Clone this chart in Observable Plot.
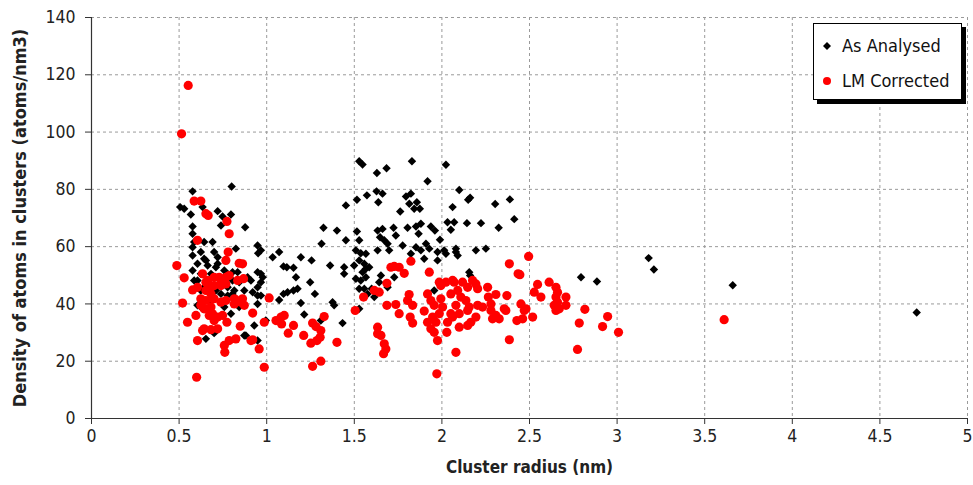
<!DOCTYPE html>
<html>
<head>
<meta charset="utf-8">
<script src="https://cdn.jsdelivr.net/npm/d3@7"></script>
<script src="https://cdn.jsdelivr.net/npm/@observablehq/plot@0.6"></script>
<style>
  body { margin: 0; background: #fff; }
  #wrap { position: relative; width: 973px; height: 485px; font-family: "DejaVu Sans Condensed", Lato, sans-serif; }
  #wrap svg [aria-label="x-axis label"] text { font-weight: bold; font-size: 17px; fill: #222; }
  #wrap svg [aria-label="y-axis label"] text { font-weight: bold; font-size: 18px; fill: #222; }
  .legend { position: absolute; left: 813px; top: 23px; width: 147px; height: 75px; border: 1px solid #000; background: #fff; box-shadow: 4px 4px 0 #000; font-size: 18px; color: #111; }
  .legend .row { position: absolute; left: 0; height: 22px; line-height: 22px; }
  .legend .mk { position: absolute; }
</style>
</head>
<body>
<div id="wrap"></div>
<script>
const xTicks = [0, 0.5, 1, 1.5, 2, 2.5, 3, 3.5, 4, 4.5, 5];
const yTicks = [0, 20, 40, 60, 80, 100, 120, 140];
const seriesNames = ["As Analysed", "LM Corrected"];
const xTitle = "Cluster radius (nm)";
const yTitle = "Density of atoms in clusters (atoms/nm3)";

// As Analysed: [radius nm, density]
const asAnalysed = [
[4.71,37],[3.66,46.5],[3.18,56],[3.21,52],[2.794,49.3],[2.885,47.8],
[1.528,89.8],[1.547,88.7],[1.629,85.7],[1.684,87.4],[1.829,89.8],[2.023,88.6],[1.918,82.8],[1.452,74.4],[1.515,76.4],[1.572,77.9],[1.627,79.3],[1.661,78.5],[1.637,75.5],[1.762,72.3],[1.795,77.5],[1.823,78.5],[1.814,75.0],[1.842,73.2],[1.857,75.5],[1.874,73.2],[2.099,79.8],[2.150,76.4],[2.161,77.1],[2.061,73.8],
[1.452,62.2],[1.515,65.3],[1.528,62.2],[1.633,65.6],[1.661,66.2],[1.647,63.3],[1.671,62.2],[1.724,66.6],[1.737,63.9],[1.804,66.6],[1.852,67.0],[1.880,68.0],[1.867,64.5],[1.937,67.0],[1.960,65.6],[1.989,62.4],[2.032,68.5],[2.070,68.5],[2.051,65.9],[2.143,68.2],
[1.509,58.7],[1.537,57.7],[1.566,57.5],[1.633,58.7],[1.690,61.0],[1.699,58.7],[1.776,60.4],[1.823,57.5],[1.852,59.8],[1.880,58.7],[1.909,61.0],[1.928,59.3],[1.975,58.1],[2.013,58.7],[2.023,57.5],[2.080,58.1],[2.080,59.3],[2.194,58.7],
[1.499,53.4],[1.528,55.2],[1.557,54.0],[1.566,52.3],[1.547,51.1],[1.585,52.8],[1.566,49.3],[1.442,52.8],[1.442,50.5],[1.509,48.8],[1.652,49.9],[1.728,49.3],[1.642,47.6],[1.690,45.8],[1.528,45.3],[1.599,45.3],[1.899,55.8],[1.975,55.2],[2.156,51.1],
[2.304,74.9],[2.388,76.5],[2.413,69.6],[2.223,68.2],[2.324,66.6],[2.251,59.3],[2.161,49.9],[1.956,44.7],[2.09,56.9],
[1.537,48.2],[1.576,43.5],[1.623,44.1],[1.614,42.4],[1.528,38.3],[1.557,45.3],
[1.324,66.6],[1.401,65.6],[1.313,61.0],[1.034,56.3],[1.071,58.1],[1.096,53.1],[1.115,52.8],[1.153,52.6],[1.195,56.3],[1.256,55.2],[1.167,49.3],[1.362,53.4],[1.248,47.6],[1.275,43.5],[1.176,45.3],[1.153,44.7],[1.119,44.1],[1.096,43.5],[1.071,41.4],[1.195,40.3],[1.376,40.6],[1.385,39.5],[1.214,36.3],[1.433,33.3],[1.309,34.2],[0.967,58.7],[0.967,50.5],[0.977,49.3],[0.967,42.9],[0.995,34.2],
[0.577,79.3],[0.800,81.0],[0.506,73.8],[0.529,73.2],[0.567,71.2],[0.634,73.8],[0.720,72.4],[0.748,70.5],[0.796,71.2],[0.739,67.4],[0.877,66.8],[0.577,67.0],[0.577,64.5],[0.586,61.6],[0.643,61.6],[0.691,61.6],[0.577,59.8],[0.624,58.1],[0.700,58.1],[0.720,56.3],[0.824,59.3],[0.948,60.4],[0.951,57.7],[0.577,56.9],[0.605,54.0],[0.653,55.2],[0.720,54.0],[0.577,51.7],[0.624,50.5],[0.682,50.5],[0.777,50.5],[0.805,51.1],[0.843,47.6],[0.910,48.2],[0.948,51.1],[0.967,47.6],[0.586,48.2],[0.624,44.7],[0.710,44.7],[0.739,43.5],[0.777,42.9],[0.815,44.7],[0.872,44.7],[0.920,44.1],[0.948,42.9],[0.948,40.0],[0.605,39.5],[0.634,38.3],[0.682,41.2],[0.758,38.9],[0.796,36.6],[0.843,38.9],[0.929,32.5],[0.881,29.0],[0.948,27.2],[0.653,27.8],
[0.643,55.8],[0.663,53.4],[0.710,52.8],[0.758,51.7],[0.805,48.2],[0.834,51.1],[0.891,49.3],[0.605,48.2],[0.643,45.8],[0.777,45.8],[0.805,43.5],[0.948,45.8],[0.700,29.8],[0.872,29.0]
];

// LM Corrected: [radius nm, density]
const lmCorrected = [
[0.552,116.3],[0.514,99.4],[0.586,75.9],[0.624,75.9],[0.653,71.5],[0.666,70.9],[0.773,68.8],[0.786,64.5],[0.605,62.2],[0.780,58.1],[0.843,54.2],[0.862,54.0],[0.487,53.4],[0.529,49.1],[0.634,50.5],[0.663,48.2],[0.700,49.3],[0.739,47.6],[0.767,49.3],[0.786,49.9],[0.834,48.2],[0.868,48.8],[0.577,44.9],[0.605,45.8],[0.653,44.7],[0.682,43.5],[0.624,41.8],[0.653,41.2],[0.691,41.8],[0.767,41.2],[0.824,41.4],[0.862,41.8],[1.014,42.1],[0.520,40.3],[0.643,38.3],[0.672,38.3],[0.691,36.6],[0.720,35.4],[0.596,36.0],[0.548,33.6],[0.773,33.6],[0.849,32.2],[0.920,36.8],[0.643,31.3],[0.682,31.0],[0.720,31.3],[0.605,27.2],[0.758,25.5],[0.786,27.2],[0.824,27.8],[0.761,23.1],[0.920,27.5],[0.957,24.3],[0.986,17.9],[0.600,14.4],
[0.767,55.2],[0.653,47.6],[0.729,49.3],[0.700,46.4],[0.739,46.4],[0.767,47.0],[0.682,45.8],[0.682,38.9],[0.815,41.8],
[0.624,39.5],[0.672,36.0],[0.700,34.2],[0.748,36.0],[0.634,30.7],[0.910,27.2],[0.815,40.0],[0.853,40.6],[0.872,39.5],[0.700,41.8],[0.739,40.6],
[0.986,33.6],[1.053,34.2],[1.082,35.4],[1.100,36.0],[1.085,33.0],[1.123,29.8],[1.153,32.5],[1.211,29.0],[1.262,33.3],[1.281,32.1],[1.309,30.7],[1.305,28.4],[1.287,27.2],[1.252,26.3],[1.328,35.6],[1.401,26.6],[1.262,18.2],[1.309,20.0],[1.505,37.7],[1.553,42.4],[1.614,44.7],[1.642,44.1],[1.686,47.2],[1.709,52.8],[1.686,39.5],[1.633,31.9],[1.633,29.6],[1.652,29.0],[1.667,22.6],[1.680,24.3],
[1.823,54.9],[1.728,53.1],[1.756,52.8],[1.785,50.7],[1.928,51.1],[2.385,54.0],[2.435,50.5],[1.985,47.6],[2.023,47.6],[2.061,48.2],[2.118,47.6],[2.175,48.2],[2.194,47.0],[2.204,45.3],[1.813,43.3],[1.804,41.2],[1.833,39.5],[1.918,43.5],[1.937,41.2],[1.956,39.5],[1.994,41.8],[2.004,38.9],[2.051,43.5],[2.090,44.7],[2.147,45.8],[2.108,42.4],[2.080,39.5],[2.261,45.8],[2.308,43.3],[2.265,42.4],[2.371,42.9],[2.137,41.2],[2.156,38.9],[2.204,39.5],[2.232,38.9],[2.280,40.0],[1.737,39.8],[1.756,36.6],[1.819,35.4],[1.833,33.3],[1.899,37.5],[1.918,33.6],[1.947,35.4],[1.966,33.6],[1.985,36.6],[1.937,31.3],[1.956,30.1],[2.032,33.6],[2.061,35.4],[2.051,36.6],[2.099,36.6],[2.147,37.7],[2.165,33.6],[2.194,35.4],[2.028,30.1],[2.099,31.9],[2.147,32.5],[2.280,37.7],[2.308,36.0],[2.327,34.8],[2.365,37.7],[2.428,34.2],[2.385,27.5],[1.975,27.2],[2.080,23.1],[1.971,15.6],[1.671,26.1],
[2.495,56.6],[2.445,50.2],[2.546,46.8],[2.527,44.1],[2.565,42.4],[2.612,47.6],[2.651,45.8],[2.660,44.1],[2.651,42.4],[2.660,40.6],[2.641,39.5],[2.651,37.7],[2.670,38.3],[2.708,42.4],[2.708,39.5],[2.816,38.1],[2.946,35.6],[2.917,32.1],[2.784,33.3],[3.008,30.1],[2.774,24.1],[2.451,40.0],[2.480,38.3],[2.518,35.4],[2.461,34.8],[1.994,46.4],[2.070,47.6],[2.356,38.3],[2.289,34.8],[2.470,37.7],
[3.611,34.5]
];

const gridStyle = { stroke: "#9a9a9a", strokeOpacity: 1, strokeDasharray: "3,3", strokeWidth: 1 };

const chart = Plot.plot({
  width: 973,
  height: 485,
  marginLeft: 91,
  marginRight: 6,
  marginTop: 17,
  marginBottom: 67,
  style: { fontFamily: "'DejaVu Sans Condensed', Lato, sans-serif", fontSize: "17.5px", color: "#222", background: "#fff" },
  x: { domain: [0, 5] },
  y: { domain: [0, 140] },
  marks: [
    Plot.gridX(xTicks.slice(1), gridStyle),
    Plot.gridY(yTicks.slice(1), gridStyle),
    Plot.axisX(xTicks, { tickSize: 6, tickPadding: 5, tickFormat: d => String(d), label: xTitle, labelAnchor: "center", labelOffset: 54, labelArrow: "none", stroke: "#333" }),
    Plot.axisY(yTicks, { tickSize: 6, tickPadding: 10, label: yTitle, labelAnchor: "center", labelOffset: 78, labelArrow: "none", stroke: "#333" }),
    Plot.ruleX([0], { stroke: "#333", strokeWidth: 1.2 }),
    Plot.ruleY([0], { stroke: "#333", strokeWidth: 1.2 }),
    Plot.dot(asAnalysed, { x: d => d[0], y: d => d[1], symbol: "diamond2", r: 3.8, fill: "#000", stroke: "none" }),
    Plot.dot(lmCorrected, { x: d => d[0], y: d => d[1], r: 4.6, fill: "#ff0000", stroke: "none" })
  ]
});

const wrap = document.getElementById("wrap");
wrap.appendChild(chart);

// Legend
const legend = document.createElement("div");
legend.className = "legend";
legend.innerHTML = `
  <div class="row" style="top:11px;">
    <svg class="mk" width="12" height="12" style="left:7px;top:5px;"><path d="M6,2L10,6L6,10L2,6Z" fill="#000"/></svg>
    <span style="position:absolute;left:28px;white-space:nowrap;">${seriesNames[0]}</span>
  </div>
  <div class="row" style="top:46px;">
    <svg class="mk" width="12" height="12" style="left:7px;top:5px;"><circle cx="6" cy="6" r="4" fill="#ff0000"/></svg>
    <span style="position:absolute;left:28px;white-space:nowrap;">${seriesNames[1]}</span>
  </div>`;
wrap.appendChild(legend);
</script>
</body>
</html>
